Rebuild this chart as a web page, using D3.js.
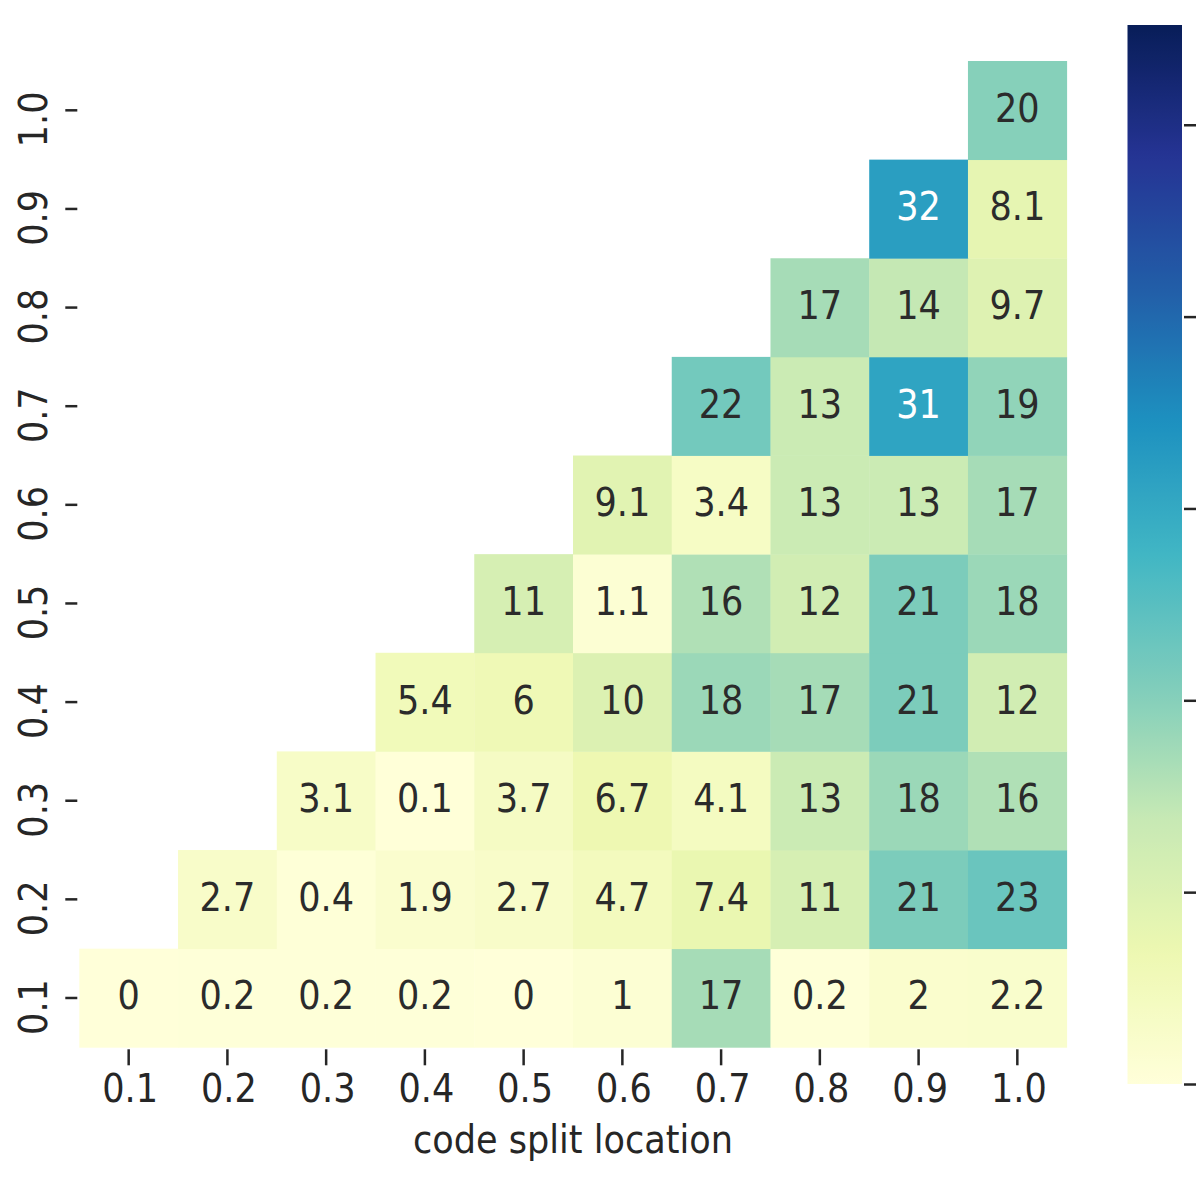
<!DOCTYPE html>
<html>
<head>
<meta charset="utf-8">
<script src="https://cdn.jsdelivr.net/npm/d3@7"></script>
<style>
  html, body { margin: 0; padding: 0; background: #ffffff; }
  svg { display: block; }
  text { font-family: "DejaVu Sans", sans-serif; fill: #262626; }
</style>
</head>
<body>
<svg id="chart" width="1196" height="1185"></svg>
<script>
// ---- data ----
const xLabels = ["0.1","0.2","0.3","0.4","0.5","0.6","0.7","0.8","0.9","1.0"];
const yLabels = ["0.1","0.2","0.3","0.4","0.5","0.6","0.7","0.8","0.9","1.0"];
// one array per row (y), values for columns x >= y
const row01 = [0, 0.2, 0.2, 0.2, 0, 1, 17, 0.2, 2, 2.2];
const row02 = [2.7, 0.4, 1.9, 2.7, 4.7, 7.4, 11, 21, 23];
const row03 = [3.1, 0.1, 3.7, 6.7, 4.1, 13, 18, 16];
const row04 = [5.4, 6, 10, 18, 17, 21, 12];
const row05 = [11, 1.1, 16, 12, 21, 18];
const row06 = [9.1, 3.4, 13, 13, 17];
const row07 = [22, 13, 31, 19];
const row08 = [17, 14, 9.7];
const row09 = [32, 8.1];
const row10 = [20];
const rows = [row01,row02,row03,row04,row05,row06,row07,row08,row09,row10];
const xTitle = "code split location";
const colorbarTicks = [0, 10, 20, 30, 40, 50];
const vmin = 0, vmax = 55.2;
// matplotlib YlGnBu anchors
const ylgnbu = ["#ffffd9","#edf8b1","#c7e9b4","#7fcdbb","#41b6c4","#1d91c0","#225ea8","#253494","#081d58"];

// build cell table
const cells = [];
rows.forEach((vals, ri) => {
  vals.forEach((v, k) => {
    cells.push({ x: xLabels[ri + k], y: yLabels[ri], v: v });
  });
});

// ---- layout ----
const svg = d3.select("#chart");
const L = 79.3, R = 1066.7, T = 61, B = 1047.3;
const TEXT_SX = 0.9;

const x = d3.scaleBand().domain(xLabels).range([L, R]).padding(0);
const y = d3.scaleBand().domain(yLabels.slice().reverse()).range([T, B]).padding(0);

const color = d3.scaleLinear()
  .domain(d3.range(ylgnbu.length).map(i => vmin + (vmax - vmin) * i / (ylgnbu.length - 1)))
  .range(ylgnbu)
  .interpolate(d3.interpolateRgb)
  .clamp(true);

function luminance(c) {
  const rgb = d3.rgb(c);
  const f = u => { u /= 255; return u <= 0.03928 ? u / 12.92 : Math.pow((u + 0.055) / 1.055, 2.4); };
  return 0.2126 * f(rgb.r) + 0.7152 * f(rgb.g) + 0.0722 * f(rgb.b);
}

const fmt = d3.format(".2~g");

// cells
svg.append("g").selectAll("rect").data(cells).join("rect")
  .attr("x", d => x(d.x))
  .attr("y", d => y(d.y))
  .attr("width", x.bandwidth() + 0.4)
  .attr("height", y.bandwidth() + 0.4)
  .attr("fill", d => color(d.v));

// annotations
svg.append("g").selectAll("text").data(cells).join("text")
  .attr("transform", d => `translate(${x(d.x) + x.bandwidth() / 2},${y(d.y) + y.bandwidth() / 2 + 11.5}) scale(${TEXT_SX},1)`)
  .attr("text-anchor", "middle")
  .style("font-size", "39px")
  .style("fill", d => luminance(color(d.v)) < 0.408 ? "#ffffff" : "#2b2b2b")
  .text(d => fmt(d.v));

// x axis
const xAxis = svg.append("g")
  .attr("transform", `translate(0,${B})`)
  .call(d3.axisBottom(x).tickSizeOuter(0));
xAxis.select(".domain").remove();
xAxis.selectAll(".tick line")
  .attr("y1", 2).attr("y2", 18)
  .attr("stroke", "#262626").attr("stroke-width", 2.5);
xAxis.selectAll(".tick text")
  .attr("y", 0).attr("dy", null)
  .attr("transform", `translate(1.5,54.7) scale(${TEXT_SX},1)`)
  .style("font-size", "39px")
  .attr("fill", "#262626");

// y axis
const yAxis = svg.append("g")
  .attr("transform", `translate(${L},0)`)
  .call(d3.axisLeft(y).tickSizeOuter(0));
yAxis.select(".domain").remove();
yAxis.selectAll(".tick line")
  .attr("x1", -2).attr("x2", -14)
  .attr("stroke", "#262626").attr("stroke-width", 2.5);
yAxis.selectAll(".tick text")
  .attr("x", 0).attr("dy", null).attr("y", 0)
  .attr("text-anchor", "middle")
  .attr("transform", `translate(${47 - L},9) rotate(-90) scale(${TEXT_SX},1)`)
  .style("font-size", "39px")
  .attr("fill", "#262626");

// x title
svg.append("text")
  .attr("transform", `translate(${(L + R) / 2},1153) scale(${TEXT_SX},1)`)
  .attr("text-anchor", "middle")
  .style("font-size", "39px")
  .text(xTitle);

// ---- colorbar ----
const cbX = 1127.5, cbW = 54.5, cbT = 25, cbB = 1084;
const cbScale = d3.scaleLinear().domain([vmin, vmax]).range([cbB, cbT]);
const defs = svg.append("defs");
const grad = defs.append("linearGradient")
  .attr("id", "cbgrad").attr("x1", 0).attr("y1", 1).attr("x2", 0).attr("y2", 0);
d3.range(0, 101).forEach(i => {
  grad.append("stop")
    .attr("offset", (i / 100))
    .attr("stop-color", color(vmin + (vmax - vmin) * i / 100));
});
svg.append("rect")
  .attr("x", cbX).attr("y", cbT)
  .attr("width", cbW).attr("height", cbB - cbT)
  .attr("fill", "url(#cbgrad)");

const cbAxis = svg.append("g")
  .attr("transform", `translate(${cbX + cbW},0)`)
  .call(d3.axisRight(cbScale).tickValues(colorbarTicks).tickFormat("").tickSizeOuter(0));
cbAxis.select(".domain").remove();
cbAxis.selectAll(".tick line")
  .attr("x1", 2).attr("x2", 16)
  .attr("stroke", "#262626").attr("stroke-width", 2.5);
</script>
</body>
</html>
